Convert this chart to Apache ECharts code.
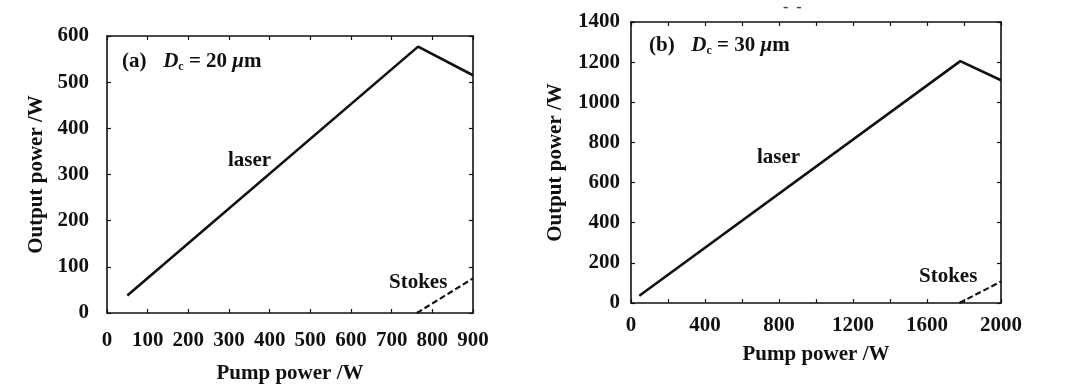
<!DOCTYPE html>
<html>
<head>
<meta charset="utf-8">
<script src="https://cdn.jsdelivr.net/npm/echarts@6/dist/echarts.min.js"></script>
<style>html,body{margin:0;padding:0;background:#fff}#c{width:1080px;height:389px}</style>
</head>
<body>
<div id="c"></div>
<script>
// Panel (a): Dc = 20 um
const laserA = [[50, 38], [765, 577], [900, 515]];
const stokesA = [[762, 0], [900, 75]];
// Panel (b): Dc = 30 um
const laserB = [[45, 36], [1780, 1205], [2000, 1110]];
const stokesB = [[1775, 0], [2000, 107]];

const xTicksA = {min: 0, max: 900, interval: 100};
const yTicksA = {min: 0, max: 600, interval: 100};
const xTicksB = {min: 0, max: 2000, interval: 200, labelEvery: 400};
const yTicksB = {min: 0, max: 1400, interval: 200};

const xName = 'Pump power /W';
const yName = 'Output power /W';

const FONT = '"Liberation Serif", "DejaVu Serif", serif';
const INK = '#111';
const FS = 21;

function lab(extra) {
  return Object.assign({color: INK, fontFamily: FONT, fontWeight: 'bold', fontSize: FS,
    formatter: v => String(v)}, extra || {});
}
function baseAxis(t, extra) {
  return Object.assign({
    type: 'value', min: t.min, max: t.max, interval: t.interval,
    axisLine: {show: true, onZero: false, lineStyle: {color: INK, width: 1.6}},
    axisTick: {show: true, inside: true, length: 4, lineStyle: {color: INK, width: 1.2}},
    splitLine: {show: false},
    axisLabel: lab(),
    nameTextStyle: {color: INK, fontFamily: FONT, fontWeight: 'bold', fontSize: FS}
  }, extra || {});
}
function mirror(t, gi, pos) {
  return baseAxis(t, {gridIndex: gi, position: pos, axisLabel: {show: false}});
}

const chart = echarts.init(document.getElementById('c'), null, {renderer: 'canvas'});
chart.setOption({
  animation: false,
  backgroundColor: '#fff',
  grid: [
    {left: 107, top: 36, width: 366, height: 280},
    {left: 631, top: 22, width: 370, height: 281}
  ],
  xAxis: [
    baseAxis(xTicksA, {gridIndex: 0, position: 'bottom', name: xName, nameLocation: 'middle', nameGap: 50,
      axisLabel: lab({margin: 17})}),
    mirror(xTicksA, 0, 'top'),
    baseAxis(xTicksB, {gridIndex: 1, position: 'bottom', name: xName, nameLocation: 'middle', nameGap: 41,
      axisLabel: lab({margin: 12, formatter: v => (v % xTicksB.labelEvery === 0 ? String(v) : '')})}),
    mirror(xTicksB, 1, 'top')
  ],
  yAxis: [
    baseAxis(yTicksA, {gridIndex: 0, position: 'left', name: yName, nameLocation: 'middle', nameGap: 60,
      axisLabel: lab({margin: 18})}),
    mirror(yTicksA, 0, 'right'),
    baseAxis(yTicksB, {gridIndex: 1, position: 'left', name: yName, nameLocation: 'middle', nameGap: 65,
      axisLabel: lab({margin: 11})}),
    mirror(yTicksB, 1, 'right')
  ],
  series: [
    {type: 'line', xAxisIndex: 0, yAxisIndex: 0, data: laserA, symbol: 'none',
      lineStyle: {color: INK, width: 2.6}},
    {type: 'line', xAxisIndex: 0, yAxisIndex: 0, data: stokesA, symbol: 'none',
      lineStyle: {color: INK, width: 2.2, type: [6, 3]}},
    {type: 'line', xAxisIndex: 2, yAxisIndex: 2, data: laserB, symbol: 'none',
      lineStyle: {color: INK, width: 2.6}},
    {type: 'line', xAxisIndex: 2, yAxisIndex: 2, data: stokesB, symbol: 'none',
      lineStyle: {color: INK, width: 2.2, type: [6, 3]}}
  ],
  graphic: [
    {type: 'text', left: 122, top: 51, style: {
      text: '{p|(a)}     {i|D}{s|c}{p| = 20 }{i|μ}{p|m}',
      rich: {
        p: {fontFamily: FONT, fontWeight: 'bold', fontSize: FS, fill: INK},
        i: {fontFamily: FONT, fontWeight: 'bold', fontStyle: 'italic', fontSize: FS, fill: INK},
        s: {fontFamily: FONT, fontWeight: 'bold', fontSize: 12, fill: INK, padding: [11, 0, 0, 0]}
      }}},
    {type: 'text', left: 649, top: 35, style: {
      text: '{p|(b)}     {i|D}{s|c}{p| = 30 }{i|μ}{p|m}',
      rich: {
        p: {fontFamily: FONT, fontWeight: 'bold', fontSize: FS, fill: INK},
        i: {fontFamily: FONT, fontWeight: 'bold', fontStyle: 'italic', fontSize: FS, fill: INK},
        s: {fontFamily: FONT, fontWeight: 'bold', fontSize: 12, fill: INK, padding: [11, 0, 0, 0]}
      }}},
    {type: 'text', left: 228, top: 150, style: {text: 'laser', font: 'bold 21px ' + FONT, fill: INK}},
    {type: 'text', left: 757, top: 147, style: {text: 'laser', font: 'bold 21px ' + FONT, fill: INK}},
    {type: 'text', left: 389, top: 272, style: {text: 'Stokes', font: 'bold 21px ' + FONT, fill: INK}},
    {type: 'text', left: 919, top: 266, style: {text: 'Stokes', font: 'bold 21px ' + FONT, fill: INK}},
    {type: 'text', left: 783, top: 0, style: {text: '-  -', font: 'bold 16px ' + FONT, fill: '#444'}}
  ]
});
</script>
</body>
</html>
